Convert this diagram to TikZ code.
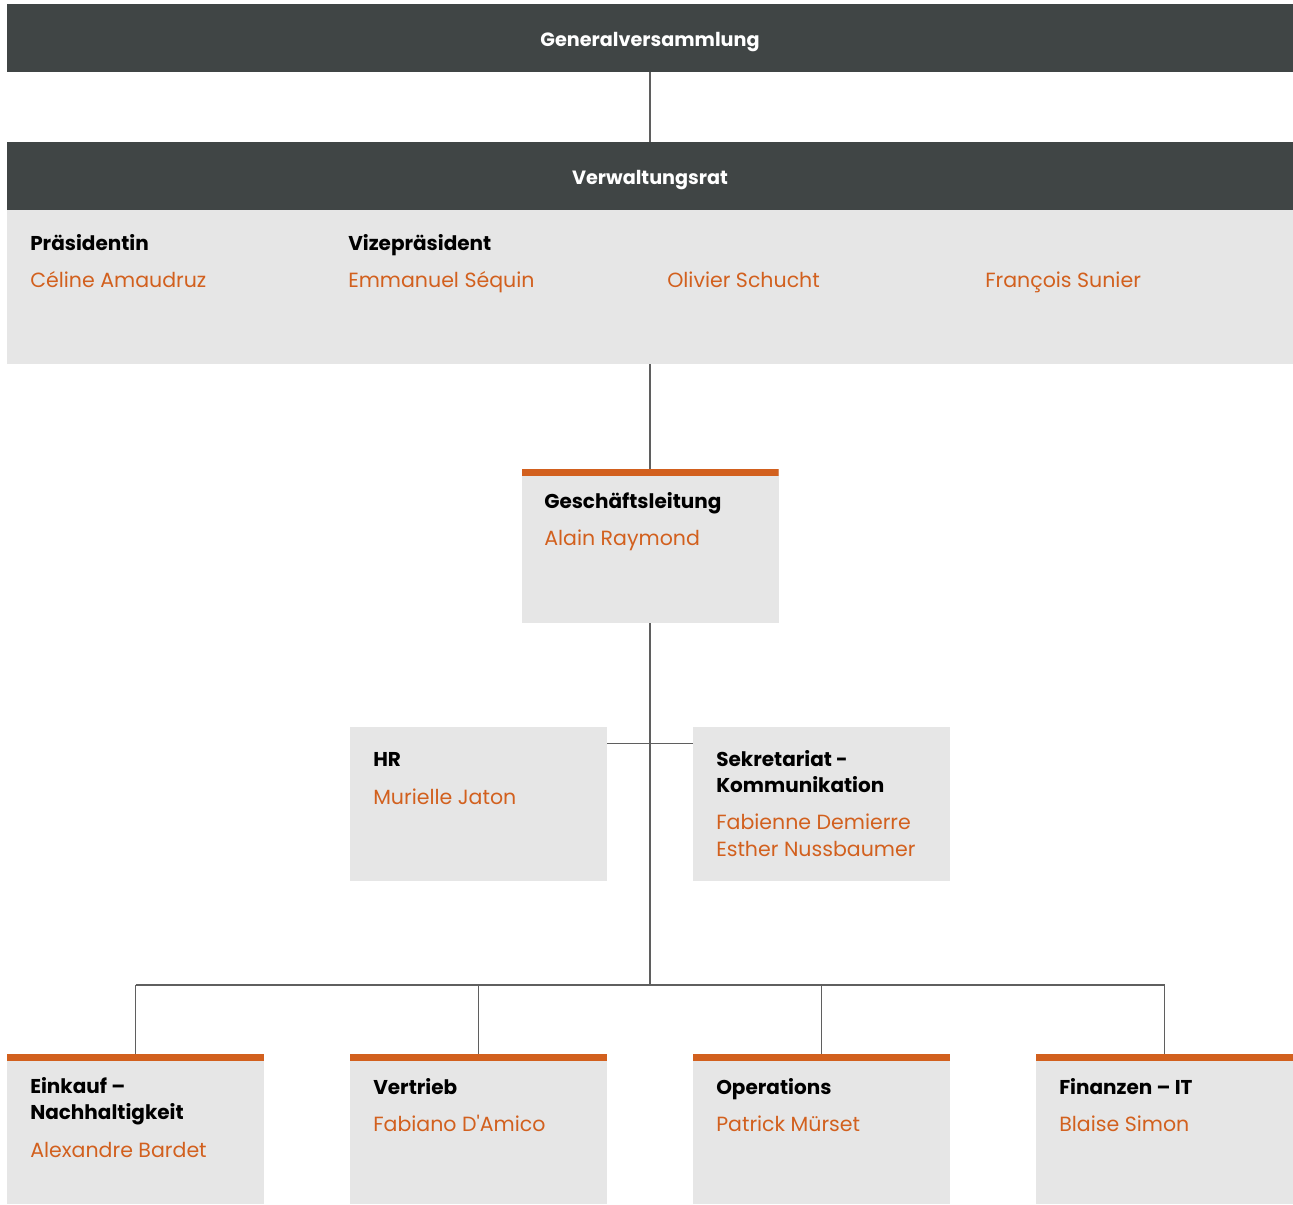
\documentclass[tikz,border=0pt]{standalone}
\usepackage{fontspec}
\setmainfont{Poppins}
\definecolor{darkbar}{RGB}{64,69,69}
\definecolor{boxgray}{RGB}{230,230,230}
\definecolor{rust}{RGB}{210,96,30}
\definecolor{linegray}{RGB}{95,95,95}

\begin{document}
\begin{tikzpicture}[x=0.75pt,y=0.75pt,yscale=-1,xscale=1,
	bar/.style={fill=darkbar, draw=none, minimum width=964.5pt, minimum height=51pt, inner sep=0pt, text height=13pt, text depth=0pt, text=white, font=\bfseries\fontsize{14.4}{19.5}\selectfont},
	panel/.style={fill=boxgray, draw=none, minimum width=964.5pt, minimum height=115.5pt, inner sep=0pt},
	unit/.style={fill=boxgray, draw=none, minimum width=192.75pt, minimum height=#1, inner sep=0pt},
	unit/.default=115.5pt,
	topped/.style={path picture={\fill[rust] (path picture bounding box.north west) rectangle ([yshift=-5.25pt]path picture bounding box.north east);}},
	head/.style={anchor=base west, inner sep=0pt, align=left, font=\bfseries\fontsize{15}{19.5}\selectfont},
	who/.style={anchor=base west, inner sep=0pt, align=left, text=rust, font=\fontsize{15.4}{20.25}\selectfont},
	link/.style={draw=linegray, line width=1.1pt}]
	\useasboundingbox (0,0) rectangle (1293,1204);
	
	%Boards
	\node [bar] (gv) at (650,38) {Generalversammlung};
	\node [bar] (vr) at (650,176) {Verwaltungsrat};
	\node [panel] (vrbody) at (650,287) {};
	
	%Units
	\node [unit, topped] (gl) at (650,546) {};
	\node [unit] (hr) at (478.5,804) {};
	\node [unit] (sk) at (821.5,804) {};
	\node [unit=112.5pt, topped] (ek) at (135.5,1129) {};
	\node [unit=112.5pt, topped] (vt) at (478.5,1129) {};
	\node [unit=112.5pt, topped] (op) at (821.5,1129) {};
	\node [unit=112.5pt, topped] (fi) at (1164.5,1129) {};
	
	%Connectors
	\coordinate (bus) at (650,985);
	\draw [link] (gv) -- (vr);
	\draw [link] (vrbody) -- (gl);
	\draw [link] (gl.south) -- (bus);
	\draw [link] ([yshift=12.75pt]hr.north east) -- ([yshift=12.75pt]sk.north west);
	\draw [link] (ek.north |- bus) -- (fi.north |- bus);
	\foreach \u in {ek,vt,op,fi}
		\draw [link] (\u.north |- bus) -- (\u.north);
	
	%Board members
	\node [head] (prt) at (30,250) {Präsidentin};
	\node [who] (prn) at (30,287) {Céline Amaudruz};
	\node [head] (vpt) at (348,250) {Vizepräsident};
	\node [who] (vpn) at (348,287) {Emmanuel Séquin};
	\node [who] (m3n) at (667,287) {Olivier Schucht};
	\node [who] (m4n) at (985,287) {François Sunier};
	
	%Unit texts (base = last line)
	\node [head] (glt) at (544,508) {Geschäftsleitung};
	\node [who] (gln) at (544,545) {Alain Raymond};
	\node [head] (hrt) at (373,766) {HR};
	\node [who] (hrn) at (373,804) {Murielle Jaton};
	\node [head] (skt) at (716,792) {Sekretariat -\\Kommunikation};
	\node [who] (skn) at (716,856) {Fabienne Demierre\\Esther Nussbaumer};
	\node [head] (ekt) at (30,1119) {Einkauf –\\Nachhaltigkeit};
	\node [who] (ekn) at (30,1157) {Alexandre Bardet};
	\node [head] (vtt) at (373,1094) {Vertrieb};
	\node [who] (vtn) at (373,1131) {Fabiano D\textquotesingle Amico};
	\node [head] (opt) at (716,1094) {Operations};
	\node [who] (opn) at (716,1131) {Patrick Mürset};
	\node [head] (fit) at (1059,1094) {Finanzen – IT};
	\node [who] (fin) at (1059,1131) {Blaise Simon};
	
\end{tikzpicture}
\end{document}
